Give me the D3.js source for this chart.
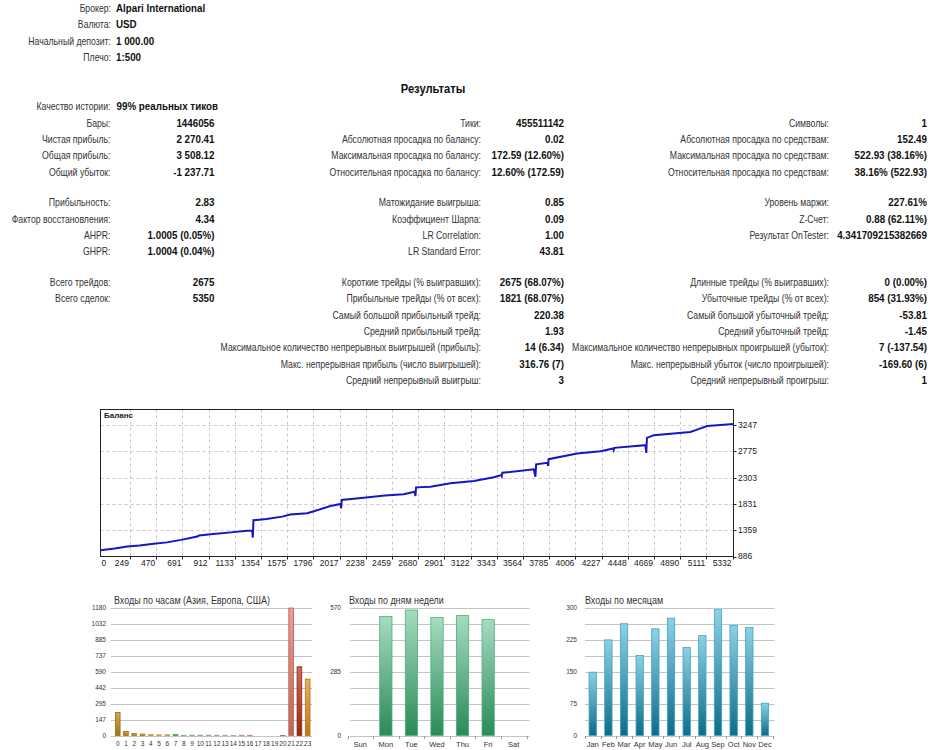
<!DOCTYPE html>
<html>
<head>
<meta charset="utf-8">
<script src="https://cdn.jsdelivr.net/npm/d3@7"></script>
<style>
  body { margin: 0; background: #fff; }
  svg text { font-family: "Liberation Sans", Arial, sans-serif; }
</style>
</head>
<body>
<div id="chart"></div>
<script>
// Header
const headerLabels = ["Брокер:", "Валюта:", "Начальный депозит:", "Плечо:"];
const headerValues = ["Alpari International", "USD", "1 000.00", "1:500"];

// Results table (row index, label, value)
const col1Rows = [0, 1, 2, 3, 4, 5, 6, 7, 8, 9, 10];
const col1Labels = ["Качество истории:", "Бары:", "Чистая прибыль:", "Общая прибыль:", "Общий убыток:",
  "Прибыльность:", "Фактор восстановления:", "AHPR:", "GHPR:", "Всего трейдов:", "Всего сделок:"];
const col1Values = ["99% реальных тиков", "1446056", "2 270.41", "3 508.12", "-1 237.71",
  "2.83", "4.34", "1.0005 (0.05%)", "1.0004 (0.04%)", "2675", "5350"];

const col2Rows = [1, 2, 3, 4, 5, 6, 7, 8, 9, 10, 11, 12, 13, 14, 15];
const col2Labels = ["Тики:", "Абсолютная просадка по балансу:", "Максимальная просадка по балансу:",
  "Относительная просадка по балансу:", "Матожидание выигрыша:", "Коэффициент Шарпа:", "LR Correlation:",
  "LR Standard Error:", "Короткие трейды (% выигравших):", "Прибыльные трейды (% от всех):",
  "Самый большой прибыльный трейд:", "Средний прибыльный трейд:",
  "Максимальное количество непрерывных выигрышей (прибыль):", "Макс. непрерывная прибыль (число выигрышей):",
  "Средний непрерывный выигрыш:"];
const col2Values = ["455511142", "0.02", "172.59 (12.60%)", "12.60% (172.59)", "0.85", "0.09", "1.00", "43.81",
  "2675 (68.07%)", "1821 (68.07%)", "220.38", "1.93", "14 (6.34)", "316.76 (7)", "3"];

const col3Rows = [1, 2, 3, 4, 5, 6, 7, 9, 10, 11, 12, 13, 14, 15];
const col3Labels = ["Символы:", "Абсолютная просадка по средствам:", "Максимальная просадка по средствам:",
  "Относительная просадка по средствам:", "Уровень маржи:", "Z-Счет:", "Результат OnTester:",
  "Длинные трейды (% выигравших):", "Убыточные трейды (% от всех):", "Самый большой убыточный трейд:",
  "Средний убыточный трейд:", "Максимальное количество непрерывных проигрышей (убыток):",
  "Макс. непрерывный убыток (число проигрышей):", "Средний непрерывный проигрыш:"];
const col3Values = ["1", "152.49", "522.93 (38.16%)", "38.16% (522.93)", "227.61%", "0.88 (62.11%)",
  "4.341709215382669", "0 (0.00%)", "854 (31.93%)", "-53.81", "-1.45", "7 (-137.54)", "-169.60 (6)", "1"];

// Balance curve (deal number, balance)
const balanceDeals = [0, 120, 225, 330, 450, 560, 680, 816, 830, 950, 1100, 1237, 1280, 1285, 1290, 1400, 1533,
  1600, 1744, 1800, 1940, 2025, 2030, 2035, 2221, 2400, 2558, 2650, 2657, 2662, 2784, 2952, 3150, 3318, 3380,
  3385, 3390, 3655, 3669, 3675, 3770, 3776, 3780, 4021, 4218, 4325, 4330, 4335, 4597, 4604, 4610, 4667, 4976,
  5033, 5118, 5200, 5340];
const balanceValues = [1000, 1030, 1065, 1085, 1114, 1140, 1185, 1244, 1262, 1290, 1320, 1347, 1350, 1227, 1538,
  1560, 1603, 1640, 1663, 1700, 1795, 1831, 1754, 1902, 1944, 1985, 2005, 2051, 1974, 2130, 2141, 2202, 2245,
  2310, 2350, 2330, 2392, 2453, 2320, 2543, 2571, 2517, 2637, 2740, 2781, 2830, 2800, 2840, 2889, 2750, 3019,
  3068, 3127, 3169, 3234, 3245, 3270];
const balanceXTicks = [0, 249, 470, 691, 912, 1133, 1354, 1575, 1796, 2017, 2238, 2459, 2680, 2901, 3122, 3343,
  3564, 3785, 4006, 4227, 4448, 4669, 4890, 5111, 5332];
const balanceYTicks = [886, 1359, 1831, 2303, 2775, 3247];

// Entries by hour
const hours = d3.range(24).map(String);
const hourEntries = [213, 37, 18, 14, 8, 6, 7, 9, 2, 3, 3, 3, 2, 2, 1, 2, 2, 0, 0, 0, 1, 1180, 636, 522];
const hourTicks = [0, 147, 295, 442, 590, 737, 885, 1032, 1180];
const hourColors = ["#c08418", "#c48616", "#cc8c18", "#d4921c", "#e8b040", "#ecb848", "#eebc50", "#6cb46c",
  "#8cc88c", "#90cc90", "#94ce94", "#98d098", "#9cd29c", "#a0d4a0", "#e8a8a0", "#e0a098", "#dc9890", "#d89088",
  "#d48880", "#d08078", "#cc6050", "#e27564", "#b0301a", "#e08c1c"];

// Entries by weekday
const days = ["Sun", "Mon", "Tue", "Wed", "Thu", "Fri", "Sat"];
const dayEntries = [0, 532, 561, 528, 536, 518, 0];

// Entries by month
const months = ["Jan", "Feb", "Mar", "Apr", "May", "Jun", "Jul", "Aug", "Sep", "Oct", "Nov", "Dec"];
const monthEntries = [149, 225, 263, 188, 251, 276, 207, 235, 296, 259, 254, 76];

const width = 952, height = 750;

const svg = d3.select("#chart").append("svg")
  .attr("width", width)
  .attr("height", height);

svg.append("rect").attr("width", width).attr("height", height).attr("fill", "#fff");

const defs = svg.append("defs");

// the report font is narrower than Arial: measure a sample and squeeze horizontally
function squeeze(str, target, size, weight) {
  let t = svg.append("text").attr("font-size", size).attr("font-weight", weight).text(str);
  let w = t.node().getComputedTextLength();
  t.remove();
  return target / w;
}
const labelSize = 10.5, valueSize = 10.5, titleSize = 11;
const labelK = squeeze("Максимальное количество непрерывных выигрышей (прибыль):", 261, labelSize, "normal");
const valueK = squeeze("4.341709215382669", 90, valueSize, "bold");
const titleK = squeeze("Входы по часам (Азия, Европа, США)", 156, titleSize, "normal");

function sqText(g, x, y, txt, k, size, anchor) {
  return g.append("text")
    .attr("transform", `translate(${x},${y}) scale(${k},1)`)
    .attr("dy", "0.35em").attr("text-anchor", anchor)
    .attr("font-size", size).text(txt);
}
function label(g, x, y, txt) {
  return sqText(g, x, y, txt, labelK, labelSize, "end").attr("fill", "#333");
}
function value(g, x, y, txt, anchor) {
  return sqText(g, x, y, txt, valueK, valueSize, anchor).attr("font-weight", "bold").attr("fill", "#111");
}

// ---------- header ----------
const head = svg.append("g");
headerLabels.forEach((l, i) => {
  let y = 8 + i * 16.5;
  label(head, 111, y, l);
  value(head, 116, y, headerValues[i], "start");
});

sqText(svg, 433, 89, "Результаты", valueK, 12, "middle")
  .attr("font-weight", "bold").attr("fill", "#111");

// ---------- results table ----------
function rowY(r) {
  let group = r < 5 ? 0 : (r < 9 ? 1 : 2);
  return 106.5 + r * 16.4 + group * 14;
}

function drawColumn(rows, labels, values, labelX, valueX) {
  let g = svg.append("g");
  rows.forEach((r, i) => {
    let y = rowY(r);
    label(g, labelX, y, labels[i]);
    if (r === 0) value(g, labelX + 6, y, values[i], "start");
    else value(g, valueX, y, values[i], "end");
  });
}
drawColumn(col1Rows, col1Labels, col1Values, 110.5, 214.5);
drawColumn(col2Rows, col2Labels, col2Values, 481, 564);
drawColumn(col3Rows, col3Labels, col3Values, 829, 927);

// ---------- balance chart ----------
const bx = d3.scaleLinear().domain([0, 5340]).range([100.5, 733.5]);
const by = d3.scaleLinear().domain([886, 3530]).range([556.5, 409.5]);

const bal = svg.append("g");
bal.selectAll(".vgrid").data(balanceXTicks.slice(1)).enter().append("line")
  .attr("x1", d => Math.round(bx(d)) + 0.5).attr("x2", d => Math.round(bx(d)) + 0.5)
  .attr("y1", 409.5).attr("y2", 556.5)
  .attr("stroke", "#c8c8c8").attr("stroke-dasharray", "3,3");
bal.selectAll(".hgrid").data(balanceYTicks.slice(1)).enter().append("line")
  .attr("x1", 100.5).attr("x2", 733.5)
  .attr("y1", d => Math.round(by(d)) + 0.5).attr("y2", d => Math.round(by(d)) + 0.5)
  .attr("stroke", "#c8c8c8").attr("stroke-dasharray", "3,3");

const balancePts = balanceDeals.map((d, i) => [d, balanceValues[i]]);
bal.append("path")
  .datum(balancePts)
  .attr("d", d3.line().x(d => bx(d[0])).y(d => by(d[1])))
  .attr("fill", "none").attr("stroke", "#1616c4").attr("stroke-width", 2);

bal.append("rect").attr("x", 100.5).attr("y", 409.5).attr("width", 633).attr("height", 147)
  .attr("fill", "none").attr("stroke", "#222");

bal.append("text").attr("x", 104).attr("y", 415).attr("dy", "0.35em")
  .attr("font-size", 8).attr("font-weight", "bold").attr("fill", "#222").text("Баланс");

// x labels
bal.selectAll(".xl").data(balanceXTicks).enter().append("text")
  .attr("x", d => d === 0 ? bx(d) + 1 : bx(d) - 1)
  .attr("y", 563).attr("dy", "0.35em")
  .attr("text-anchor", d => d === 0 ? "start" : "end")
  .attr("font-size", 8.5).attr("fill", "#222").text(d => d);
bal.selectAll(".xt").data(balanceXTicks.slice(1)).enter().append("line")
  .attr("x1", d => Math.round(bx(d)) + 0.5).attr("x2", d => Math.round(bx(d)) + 0.5)
  .attr("y1", 556.5).attr("y2", 559.5).attr("stroke", "#222");

// y labels
bal.selectAll(".yl").data(balanceYTicks).enter().append("text")
  .attr("x", 738).attr("y", d => by(d)).attr("dy", "0.35em")
  .attr("font-size", 8.5).attr("fill", "#222").text(d => d);
bal.selectAll(".yt").data(balanceYTicks).enter().append("line")
  .attr("x1", 733.5).attr("x2", 736.5)
  .attr("y1", d => Math.round(by(d)) + 0.5).attr("y2", d => Math.round(by(d)) + 0.5)
  .attr("stroke", "#222");

// ---------- bar charts ----------
let gradId = 0;
function gradient(top, bottom) {
  let id = "grad" + (gradId++);
  let lg = defs.append("linearGradient").attr("id", id)
    .attr("x1", 0).attr("y1", 0).attr("x2", 0).attr("y2", 1);
  lg.append("stop").attr("offset", "0%").attr("stop-color", top);
  lg.append("stop").attr("offset", "100%").attr("stop-color", bottom);
  return "url(#" + id + ")";
}

function barChart(opts) {
  let g = svg.append("g");
  let x = d3.scaleBand().domain(opts.cats).range(opts.xRange).padding(opts.pad).paddingOuter(opts.pad / 2);
  let y = d3.scaleLinear().domain([0, opts.max]).range([735.5, 608]);

  sqText(g, opts.titleX, 600, opts.title, titleK, titleSize, "start").attr("fill", "#333");

  g.selectAll(".grid").data(opts.grid).enter().append("line")
    .attr("x1", opts.gridX[0]).attr("x2", opts.gridX[1])
    .attr("y1", d => Math.round(y(d)) + 0.5).attr("y2", d => Math.round(y(d)) + 0.5)
    .attr("stroke", "#c4c4c4");

  g.selectAll(".yl").data(opts.ticks).enter().append("text")
    .attr("x", opts.labelX).attr("y", d => y(d)).attr("dy", "0.35em")
    .attr("text-anchor", "end").attr("font-size", 6.5).attr("fill", "#333").text(d => d);

  g.selectAll(".bar").data(opts.values).enter().append("rect")
    .attr("x", (d, i) => x(opts.cats[i]))
    .attr("y", d => y(d))
    .attr("width", x.bandwidth())
    .attr("height", d => y(0) - y(d))
    .attr("fill", (d, i) => opts.fill(i))
    .attr("stroke", (d, i) => d > 0 ? opts.stroke(i) : "none")
    .attr("stroke-width", 0.8);

  if (opts.axisTicks) {
    let step = x.step();
    g.selectAll(".xt").data(d3.range(opts.cats.length + 1)).enter().append("line")
      .attr("x1", i => Math.round(opts.xRange[0] + i * step) + 0.5)
      .attr("x2", i => Math.round(opts.xRange[0] + i * step) + 0.5)
      .attr("y1", 736).attr("y2", 739).attr("stroke", "#999");
  }

  g.selectAll(".xl").data(opts.cats).enter().append("text")
    .attr("x", d => x(d) + x.bandwidth() / 2).attr("y", 744).attr("dy", "0.35em")
    .attr("text-anchor", "middle")
    .attr("font-size", opts.xFont).attr("fill", "#333").text(d => d);
}

const hourFills = hourColors.map(c => gradient(d3.interpolateRgb(c, "#fff")(0.3), d3.color(c).darker(0.45)));
barChart({
  cats: hours, values: hourEntries, max: 1180, ticks: hourTicks, grid: hourTicks,
  xRange: [113.6, 311.8], pad: 0.43, gridX: [111, 312], labelX: 106, titleX: 114,
  title: "Входы по часам (Азия, Европа, США)", xFont: 6.5,
  fill: i => hourFills[i], stroke: i => d3.color(hourColors[i]).darker(0.6)
});

const dayFill = gradient("#a6dcc0", "#2a8a58");
barChart({
  cats: days, values: dayEntries, max: 570, ticks: [0, 285, 570], grid: d3.range(0, 571, 71.25),
  xRange: [347.5, 526.5], pad: 0.52, gridX: [350, 529.5], labelX: 341, titleX: 349,
  title: "Входы по дням недели", xFont: 7.5, axisTicks: true,
  fill: () => dayFill, stroke: () => "#4db07c"
});

const monthFill = gradient("#8ed0e4", "#0d6c88");
barChart({
  cats: months, values: monthEntries, max: 300, ticks: [0, 75, 150, 225, 300], grid: d3.range(0, 301, 37.5),
  xRange: [584.9, 772.8], pad: 0.53, gridX: [585, 774.5], labelX: 577, titleX: 585,
  title: "Входы по месяцам", xFont: 7.5, axisTicks: true,
  fill: () => monthFill, stroke: () => "#3aa6c6"
});
</script>
</body>
</html>
